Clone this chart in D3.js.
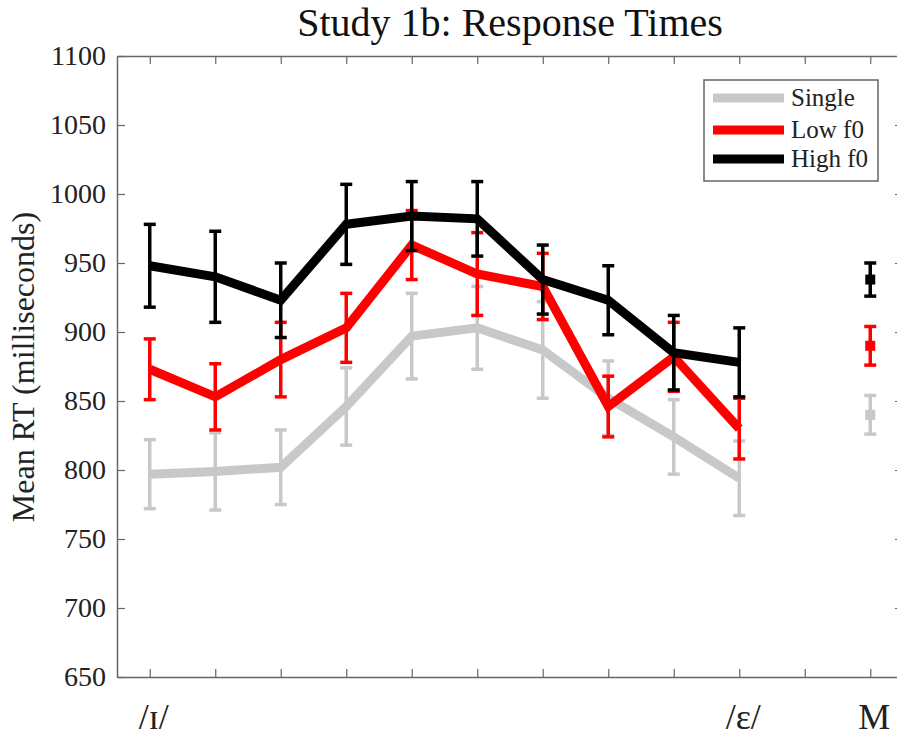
<!DOCTYPE html>
<html>
<head>
<meta charset="utf-8">
<script src="https://cdn.jsdelivr.net/npm/d3@7"></script>
<style>
  body { margin: 0; background: #fff; }
</style>
</head>
<body>
<div class="rtchart"></div>
<script>
// values (ms)
var positions = [1, 2, 3, 4, 5, 6, 7, 8, 9, 10]
var single   = [797, 799, 802, 846, 897, 903, 887, 852, 824, 794]
var singleSE = [25, 28, 27, 28, 31, 30, 35, 27, 27, 27]
var lowF0    = [873, 853, 880, 903, 963, 942, 933, 846, 882, 830]
var lowSE    = [22, 24, 27, 25, 25, 30, 24, 22, 25, 22]
var highF0   = [948, 940, 923, 978, 984, 982, 938, 923, 885, 878]
var highSE   = [30, 33, 27, 29, 25, 27, 25, 25, 27, 25]

var meanPos = 12
var meanVals = [840, 890, 938]   // Single, Low f0, High f0
var meanSE   = [14, 14, 12]

var seriesNames = ["Single", "Low f0", "High f0"]
var seriesColors = ["#c8c8c8", "#ff0000", "#000000"]

var xTicks = [1, 2, 3, 4, 5, 6, 7, 8, 9, 10, 11, 12]
var xLabels = {1: "/\u026A/", 10: "/\u025B/", 12: "M"}
var yTicks = [650, 700, 750, 800, 850, 900, 950, 1000, 1050, 1100]

var serif = "'Liberation Serif', 'Times New Roman', 'DejaVu Serif', serif"

var width = 897, height = 736
var margin = {top: 56, right: -6, bottom: 59, left: 117}

var svg = d3.select(".rtchart")
  .append("svg")
  .attr("width", width)
  .attr("height", height)

var x = d3.scaleLinear()
  .domain([0.5, 12.5])
  .range([margin.left, width - margin.right])

var y = d3.scaleLinear()
  .domain([650, 1100])
  .range([height - margin.bottom, margin.top])

// axes, matlab style ticks pointing inward
var axisColor = "#666"
function styleAxis(g) {
  g.attr("font-family", serif)
  g.select(".domain").attr("stroke", axisColor).attr("stroke-width", 1.5)
  g.selectAll(".tick line").attr("stroke", axisColor).attr("stroke-width", 1.2)
}

svg.append("g")
  .attr("transform", "translate(0," + y(650) + ")")
  .call(d3.axisBottom(x).tickValues(xTicks).tickSize(-8).tickSizeOuter(0).tickFormat(""))
  .call(styleAxis)

svg.append("g")
  .attr("transform", "translate(0," + y(1100) + ")")
  .call(d3.axisTop(x).tickValues(xTicks).tickSize(-8).tickSizeOuter(0).tickFormat(""))
  .call(styleAxis)

svg.append("g")
  .attr("transform", "translate(" + x(0.5) + ",0)")
  .call(d3.axisLeft(y).tickValues(yTicks).tickSize(-8).tickSizeOuter(0).tickPadding(11).tickFormat(d3.format("d")))
  .call(styleAxis)
  .call(function(g) {
    g.attr("font-size", 28)
    g.selectAll(".tick text").attr("fill", "#222").attr("font-family", serif)
  })

svg.append("g")
  .attr("transform", "translate(" + x(12.5) + ",0)")
  .call(d3.axisRight(y).tickValues(yTicks).tickSize(-8).tickSizeOuter(0).tickFormat(""))
  .call(styleAxis)

// category labels under the x axis
svg.append("g")
  .selectAll("text")
  .data(Object.keys(xLabels))
  .enter()
  .append("text")
  .attr("x", function(d) { return x(+d) + 4; })
  .attr("y", 729)
  .attr("text-anchor", "middle")
  .attr("font-family", serif)
  .attr("font-size", 36)
  .attr("fill", "#222")
  .text(function(d) { return xLabels[d]; })

// title + y label
svg.append("text")
  .attr("x", 510)
  .attr("y", 36)
  .attr("text-anchor", "middle")
  .attr("font-family", serif)
  .attr("font-size", 40)
  .attr("fill", "#111")
  .text("Study 1b: Response Times")

svg.append("text")
  .attr("transform", "translate(34,367) rotate(-90)")
  .attr("text-anchor", "middle")
  .attr("font-family", serif)
  .attr("font-size", 32)
  .attr("fill", "#222")
  .text("Mean RT (milliseconds)")

// series
var series = [
  {name: seriesNames[0], vals: single, se: singleSE, color: seriesColors[0]},
  {name: seriesNames[1], vals: lowF0,  se: lowSE,    color: seriesColors[1]},
  {name: seriesNames[2], vals: highF0, se: highSE,   color: seriesColors[2]}
]

var line = d3.line()
  .x(function(d) { return x(d.p); })
  .y(function(d) { return y(d.v); })

var capW = 6

series.forEach(function(s, si) {
  var pts = positions.map(function(p, i) { return {p: p, v: s.vals[i], e: s.se[i]}; })
  var g = svg.append("g").attr("class", "series")

  g.append("path")
    .datum(pts)
    .attr("fill", "none")
    .attr("stroke", s.color)
    .attr("stroke-width", 9)
    .attr("stroke-linejoin", "miter")
    .attr("d", line)

  var bars = g.selectAll(".eb")
    .data(pts)
    .enter()
    .append("g")
    .attr("class", "eb")
    .attr("stroke", s.color)
    .attr("stroke-width", 3.5)

  bars.append("line")
    .attr("x1", function(d) { return x(d.p); })
    .attr("x2", function(d) { return x(d.p); })
    .attr("y1", function(d) { return y(d.v - d.e); })
    .attr("y2", function(d) { return y(d.v + d.e); })
  bars.append("line")
    .attr("x1", function(d) { return x(d.p) - capW; })
    .attr("x2", function(d) { return x(d.p) + capW; })
    .attr("y1", function(d) { return y(d.v + d.e); })
    .attr("y2", function(d) { return y(d.v + d.e); })
  bars.append("line")
    .attr("x1", function(d) { return x(d.p) - capW; })
    .attr("x2", function(d) { return x(d.p) + capW; })
    .attr("y1", function(d) { return y(d.v - d.e); })
    .attr("y2", function(d) { return y(d.v - d.e); })

  // overall mean at M
  var m = {p: meanPos, v: meanVals[si], e: meanSE[si]}
  var mg = g.append("g").attr("stroke", s.color).attr("stroke-width", 3.5)
  mg.append("line")
    .attr("x1", x(m.p)).attr("x2", x(m.p))
    .attr("y1", y(m.v - m.e)).attr("y2", y(m.v + m.e))
  mg.append("line")
    .attr("x1", x(m.p) - capW).attr("x2", x(m.p) + capW)
    .attr("y1", y(m.v + m.e)).attr("y2", y(m.v + m.e))
  mg.append("line")
    .attr("x1", x(m.p) - capW).attr("x2", x(m.p) + capW)
    .attr("y1", y(m.v - m.e)).attr("y2", y(m.v - m.e))
  g.append("rect")
    .attr("x", x(m.p) - 5).attr("y", y(m.v) - 5)
    .attr("width", 10).attr("height", 10)
    .attr("fill", s.color)
})

// legend
var legend = svg.append("g").attr("class", "legend")
legend.append("rect")
  .attr("x", 704).attr("y", 80)
  .attr("width", 174).attr("height", 101)
  .attr("fill", "#fff")
  .attr("stroke", "#666")
  .attr("stroke-width", 1.5)

var legY = [98, 130, 159]
series.forEach(function(s, i) {
  legend.append("line")
    .attr("x1", 713).attr("x2", 784)
    .attr("y1", legY[i]).attr("y2", legY[i])
    .attr("stroke", s.color)
    .attr("stroke-width", 9)
  legend.append("text")
    .attr("x", 791)
    .attr("y", legY[i] + 8)
    .attr("font-family", serif)
    .attr("font-size", 25)
    .attr("fill", "#222")
    .text(s.name)
})
</script>
</body>
</html>
